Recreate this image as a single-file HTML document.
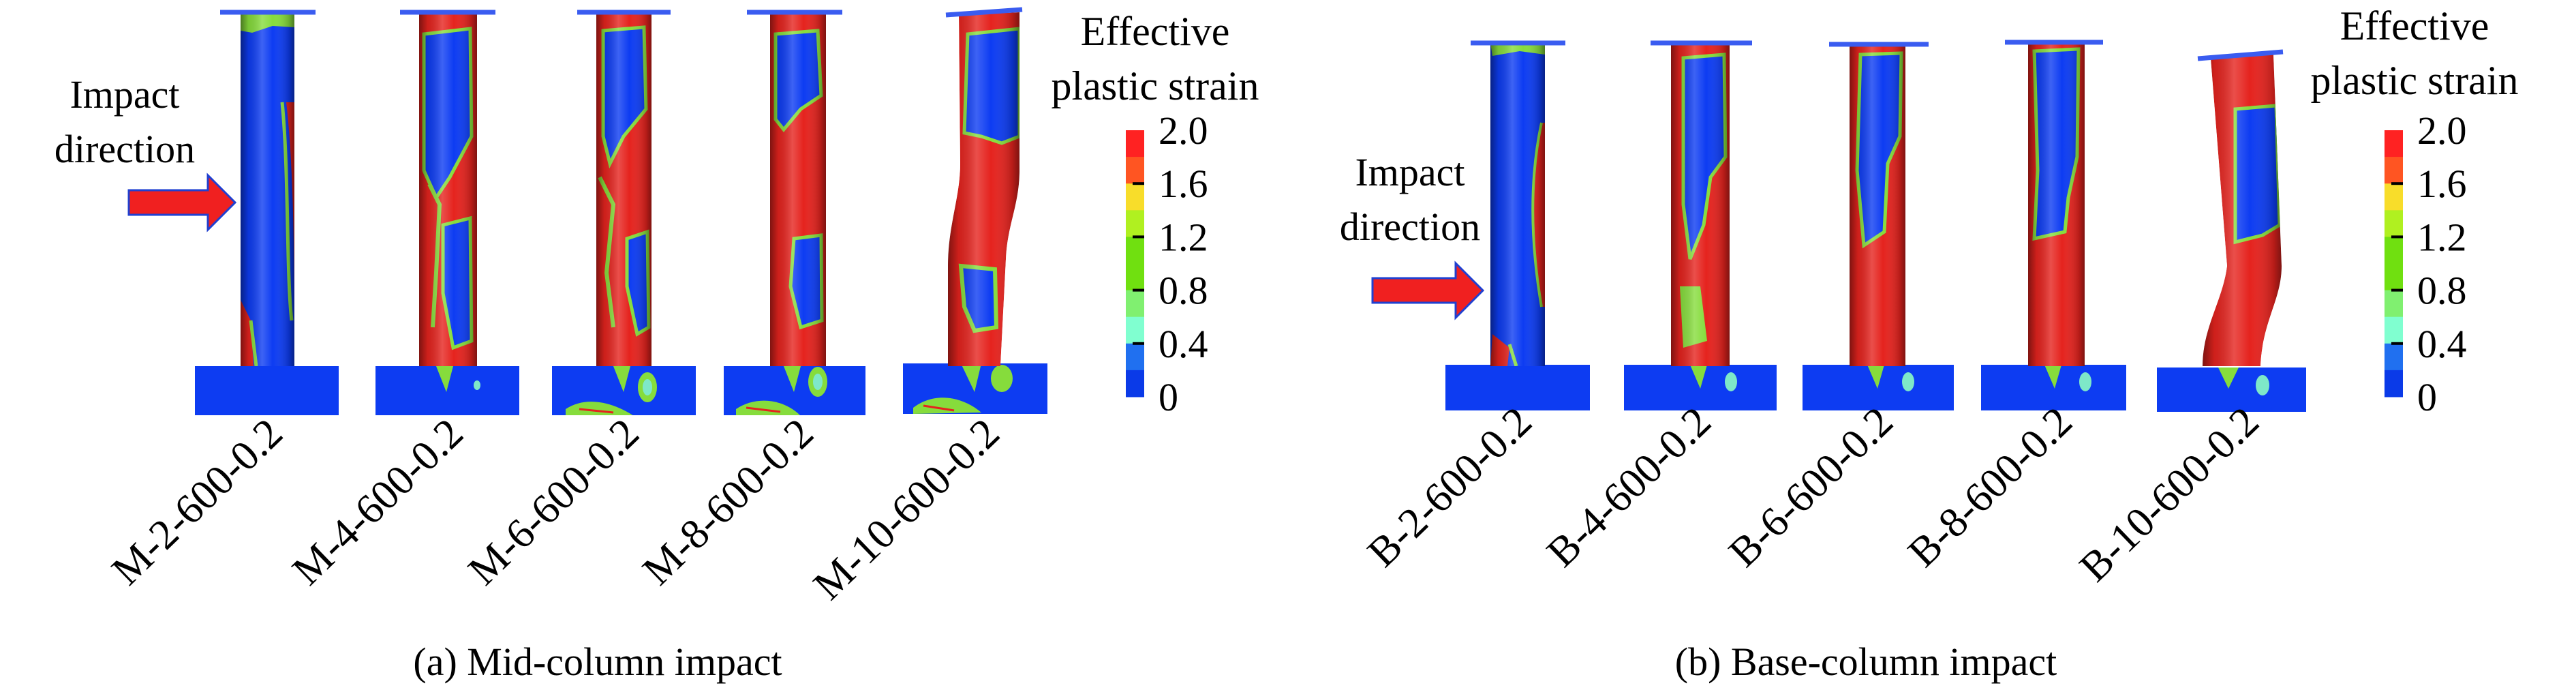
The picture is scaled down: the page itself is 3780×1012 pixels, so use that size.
<!DOCTYPE html>
<html><head><meta charset="utf-8">
<style>
html,body{margin:0;padding:0;background:#fff;}
svg{display:block;}
svg text{font-family:"Liberation Serif","DejaVu Serif",serif !important;fill:#000;}
</style></head>
<body>
<svg id="fig" width="3780" height="1012" viewBox="0 0 3780 1012" xmlns="http://www.w3.org/2000/svg">
<defs>
  <linearGradient id="shade" x1="0" x2="1" y1="0" y2="0">
    <stop offset="0" stop-color="#000" stop-opacity="0.45"/>
    <stop offset="0.15" stop-color="#000" stop-opacity="0.1"/>
    <stop offset="0.4" stop-color="#fff" stop-opacity="0.2"/>
    <stop offset="0.6" stop-color="#fff" stop-opacity="0"/>
    <stop offset="0.9" stop-color="#000" stop-opacity="0.2"/>
    <stop offset="1" stop-color="#000" stop-opacity="0.45"/>
  </linearGradient>
</defs>
<g id="panels"></g>
<g id="labels"></g>
</svg>
<script>
// ---- data ----
const colorbarTicks = ["2.0","1.6","1.2","0.8","0.4","0"];
const bandColors = ["#ff2222","#ff5522","#f8dd2a","#b0f020","#70e010","#70e010","#80f070","#80ffd0","#2070f0","#0a3ae8"];
const midNames = ["M-2-600-0.2","M-4-600-0.2","M-6-600-0.2","M-8-600-0.2","M-10-600-0.2"];
const baseNames = ["B-2-600-0.2","B-4-600-0.2","B-6-600-0.2","B-8-600-0.2","B-10-600-0.2"];

const NS="http://www.w3.org/2000/svg";
const P=document.getElementById('panels');
const BLUE="#0d3cf2", RED="#e5231e", GRN="#86dc3c", CYN="#7ee8c8";
function el(tag,attrs,parent){const e=document.createElementNS(NS,tag);for(const k in attrs)e.setAttribute(k,attrs[k]);(parent||P).appendChild(e);return e;}
let cid=0;

function column(name, bodyD, cap, base, bg, patches, basePatches){
  const g=el('g',{});
  
  
  const bg2=el('g',{},g);
  el('rect',{x:base[0],y:base[1],width:base[2],height:base[3],fill:BLUE},bg2);
  const bid='b'+(cid++);
  const cpb=el('clipPath',{id:bid},bg2);el('rect',{x:base[0],y:base[1],width:base[2],height:base[3]},cpb);
  const bp=el('g',{'clip-path':'url(#'+bid+')'},bg2);
  basePatches.forEach(p=>el(p[0],p[1],bp));
  const id='c'+(cid++);
  const cp=el('clipPath',{id:id},g);el('path',{d:bodyD},cp);
  const inner=el('g',{'clip-path':'url(#'+id+')'},g);
  el('path',{d:bodyD,fill:bg},inner);
  patches.forEach(p=>el(p[0],p[1],inner));
  const bb=bodyBox(bodyD);
  el('rect',{x:bb[0],y:0,width:bb[1]-bb[0],height:620,fill:'url(#shade)'},inner);
  el('path',{d:cap,stroke:"#3a5cf0","stroke-width":7,fill:'none'},g);
  return g;
}
function bodyBox(d){const n=d.match(/-?\d+(\.\d+)?/g).map(Number);let xs=[];for(let i=0;i<n.length;i+=2)xs.push(n[i]);return[Math.min(...xs),Math.max(...xs)];}

// ---------- MID panel ----------
column('m2','M353,18 L432,18 L432,537 L353,537 Z','M323,18 L463,18',[286,537,211,72],BLUE,[
 ['path',{d:'M353,18 L432,18 L432,40 L400,38 L370,48 L353,45 Z',fill:GRN}],
 ['path',{d:'M420,150 C432,250 432,420 432,470 L432,150 Z',fill:RED}],
 ['path',{d:'M414,150 C424,250 420,400 428,470',fill:'none',stroke:GRN,'stroke-width':5}],
 ['path',{d:'M353,440 L368,470 L372,537 L353,537 Z',fill:RED}],
 ['path',{d:'M368,470 L376,537',stroke:GRN,'stroke-width':5}]
],[]);
column('m4','M615,18 L700,18 L700,537 L615,537 Z','M587,18 L727,18',[551,537,211,72],RED,[
 ['path',{d:'M622,50 L690,42 L692,200 L660,260 L640,290 L622,250 Z',fill:BLUE,stroke:GRN,'stroke-width':5}],
 ['path',{d:'M650,330 L690,320 L692,500 L665,510 L650,430 Z',fill:BLUE,stroke:GRN,'stroke-width':5}],
 ['path',{d:'M630,270 L645,300 L640,400 L635,480',fill:'none',stroke:GRN,'stroke-width':6}]
],[['path',{d:'M640,537 L665,537 L655,575 Z',fill:GRN}],['ellipse',{cx:700,cy:565,rx:5,ry:7,fill:CYN}]]);
column('m6','M875,18 L956,18 L956,537 L875,537 Z','M847,18 L984,18',[810,537,211,72],RED,[
 ['path',{d:'M885,45 L945,40 L948,160 L915,200 L895,240 L885,200 Z',fill:BLUE,stroke:GRN,'stroke-width':5}],
 ['path',{d:'M920,350 L950,340 L952,480 L935,490 L920,420 Z',fill:BLUE,stroke:GRN,'stroke-width':5}],
 ['path',{d:'M880,260 L900,300 L890,400 L900,480',fill:'none',stroke:GRN,'stroke-width':6}]
],[['path',{d:'M900,537 L925,537 L915,575 Z',fill:GRN}],['ellipse',{cx:950,cy:568,rx:14,ry:22,fill:GRN}],['ellipse',{cx:950,cy:568,rx:7,ry:12,fill:CYN}],['path',{d:'M830,600 C860,580 900,590 930,610 L830,612 Z',fill:GRN}],['path',{d:'M850,600 L900,605',stroke:RED,'stroke-width':3}]]);
column('m8','M1130,18 L1212,18 L1212,537 L1130,537 Z','M1096,18 L1236,18',[1062,537,208,72],RED,[
 ['path',{d:'M1138,50 L1200,45 L1205,140 L1175,160 L1150,190 L1138,175 Z',fill:BLUE,stroke:GRN,'stroke-width':5}],
 ['path',{d:'M1165,350 L1205,345 L1206,470 L1175,480 L1160,420 Z',fill:BLUE,stroke:GRN,'stroke-width':5}]
],[['path',{d:'M1150,537 L1175,537 L1165,575 Z',fill:GRN}],['ellipse',{cx:1200,cy:560,rx:14,ry:22,fill:GRN}],['ellipse',{cx:1200,cy:560,rx:7,ry:12,fill:CYN}],['path',{d:'M1080,600 C1110,580 1150,585 1175,610 L1080,612 Z',fill:GRN}],['path',{d:'M1095,598 L1145,604',stroke:RED,'stroke-width':3}]]);
column('m10','M1407,22 L1496,18 L1496,250 C1496,300 1478,330 1476,380 L1468,537 L1391,537 L1391,390 C1391,330 1409,290 1409,240 Z','M1388,22 L1500,14',[1325,533,212,74],RED,[
 ['path',{d:'M1420,50 L1496,42 L1496,200 L1470,210 L1440,200 L1415,195 Z',fill:BLUE,stroke:GRN,'stroke-width':5}],
 ['path',{d:'M1410,390 L1460,395 L1462,480 L1430,485 L1415,450 Z',fill:BLUE,stroke:GRN,'stroke-width':6}]
],[['path',{d:'M1410,533 L1440,533 L1430,575 Z',fill:GRN}],['ellipse',{cx:1470,cy:555,rx:16,ry:20,fill:GRN}],['path',{d:'M1340,598 C1370,575 1410,580 1440,605 L1340,607 Z',fill:GRN}],['path',{d:'M1355,595 L1400,602',stroke:RED,'stroke-width':3}]]);

// ---------- BASE panel ----------
column('b2','M2187,63 L2267,63 L2267,537 L2187,537 Z','M2158,63 L2297,63',[2121,535,212,67],BLUE,[
 ['path',{d:'M2187,63 L2267,63 L2267,80 L2230,75 L2190,82 Z',fill:GRN}],
 ['path',{d:'M2262,180 C2245,260 2245,350 2262,450 L2267,450 L2267,180 Z',fill:RED}],
 ['path',{d:'M2262,180 C2245,260 2245,350 2262,450',fill:'none',stroke:GRN,'stroke-width':4}],
 ['path',{d:'M2190,490 L2215,510 L2212,537 L2187,537 Z',fill:RED}],
 ['path',{d:'M2215,505 L2225,537',stroke:GRN,'stroke-width':5}]
],[]);
column('b4','M2452,63 L2538,63 L2538,537 L2452,537 Z','M2422,63 L2571,63',[2383,535,224,67],RED,[
 ['path',{d:'M2470,85 L2530,80 L2532,230 L2510,260 L2500,330 L2480,380 L2470,300 Z',fill:BLUE,stroke:GRN,'stroke-width':5}],
 ['path',{d:'M2465,420 L2495,420 L2505,500 L2470,510 Z',fill:GRN}]
],[['path',{d:'M2480,535 L2505,535 L2495,570 Z',fill:GRN}],['ellipse',{cx:2540,cy:560,rx:9,ry:14,fill:CYN}]]);
column('b6','M2714,65 L2796,65 L2796,537 L2714,537 Z','M2684,65 L2830,65',[2645,535,222,67],RED,[
 ['path',{d:'M2730,80 L2790,78 L2788,200 L2770,240 L2765,340 L2735,360 L2725,250 Z',fill:BLUE,stroke:GRN,'stroke-width':5}]
],[['path',{d:'M2740,535 L2765,535 L2755,570 Z',fill:GRN}],['ellipse',{cx:2800,cy:560,rx:9,ry:14,fill:CYN}]]);
column('b8','M2976,62 L3059,62 L3059,537 L2976,537 Z','M2942,62 L3086,62',[2907,535,213,67],RED,[
 ['path',{d:'M2985,75 L3050,72 L3048,230 L3035,290 L3030,340 L2985,350 L2990,250 Z',fill:BLUE,stroke:GRN,'stroke-width':5}]
],[['path',{d:'M3000,535 L3025,535 L3015,570 Z',fill:GRN}],['ellipse',{cx:3060,cy:560,rx:9,ry:14,fill:CYN}]]);
column('b10','M3244,86 L3336,80 L3348,390 C3348,440 3320,470 3317,537 L3232,537 C3232,480 3262,440 3268,390 Z','M3225,86 L3350,76',[3165,539,219,65],RED,[
 ['path',{d:'M3280,160 L3340,155 L3345,330 L3320,345 L3280,355 Z',fill:BLUE,stroke:GRN,'stroke-width':5}]
],[['path',{d:'M3255,539 L3285,539 L3270,570 Z',fill:GRN}],['ellipse',{cx:3320,cy:565,rx:10,ry:15,fill:CYN}]]);

function arrow(name,x0,x1,yc){
  const h=18, H=40, head=40;
  const a=el('path',{d:`M${x0},${yc-h} L${x1-head},${yc-h} L${x1-head},${yc-H} L${x1},${yc} L${x1-head},${yc+H} L${x1-head},${yc+h} L${x0},${yc+h} Z`,fill:'#f02020',stroke:'#2040d0','stroke-width':3});
  
  
}
arrow('impact-arrow-mid',189,345,297);
arrow('impact-arrow-base',2014,2176,426);

const L=document.getElementById('labels');
function txt(s,x,y,size,anchor,name,extra){
  const t=document.createElementNS(NS,'text');
  t.setAttribute('x',x);t.setAttribute('y',y);t.setAttribute('font-size',size);
  t.setAttribute('font-family','Liberation Serif, DejaVu Serif, serif');
  t.setAttribute('text-anchor',anchor||'start');
  if(extra)for(const k in extra)t.setAttribute(k,extra[k]);
  t.textContent=s;
  
  
  L.appendChild(t);return t;
}
txt('Impact',183,158,58,'middle','impact-label-mid');
txt('direction',183,238,58,'middle','direction-label-mid');
txt('Impact',2069,272,58,'middle','impact-label-base');
txt('direction',2069,352,58,'middle','direction-label-base');

function colorbar(name,x,x2lab,titleX,titleY){
  const g=el('g',{},L);
  
  
  const top=191,bot=582,w=27;
  const bh=(bot-top)/bandColors.length;
  bandColors.forEach((c,i)=>{
    const r=el('rect',{x:x,y:top+i*bh,width:w,height:bh+0.5,fill:c},g);
    
    
  });
  const step=(bot-top)/(colorbarTicks.length-1);
  colorbarTicks.forEach((s,i)=>{
    const y=top+i*step;
    if(i>0&&i<colorbarTicks.length-1){
      const tk=el('rect',{x:x+10,y:y-2,width:w-10,height:4,fill:'#000'},g);
      
      
    }
    txt(s,x2lab,y+20,58,'start','colorbar-label');
  });
  txt('Effective',titleX,titleY,60,'middle','legend-title-line1');
  txt('plastic strain',titleX,titleY+80,60,'middle','legend-title-line2');
}
colorbar('colorbar-mid',1652,1700,1695,66);
colorbar('colorbar-base',3499,3547,3543,58);

const midCenters=[418,683,941,1197,1470];
const baseCenters=[2251,2514,2781,3044,3318];
midNames.forEach((s,i)=>txt(s,midCenters[i],640,62,'end','specimen-label-'+s.toLowerCase(),{transform:`rotate(-44 ${midCenters[i]} 640)`}));
baseNames.forEach((s,i)=>txt(s,baseCenters[i],623,62,'end','specimen-label-'+s.toLowerCase(),{transform:`rotate(-44 ${baseCenters[i]} 623)`}));

txt('(a) Mid-column impact',877,990,58,'middle','caption-a');
txt('(b) Base-column impact',2738,990,58,'middle','caption-b');
</script>
</body></html>
